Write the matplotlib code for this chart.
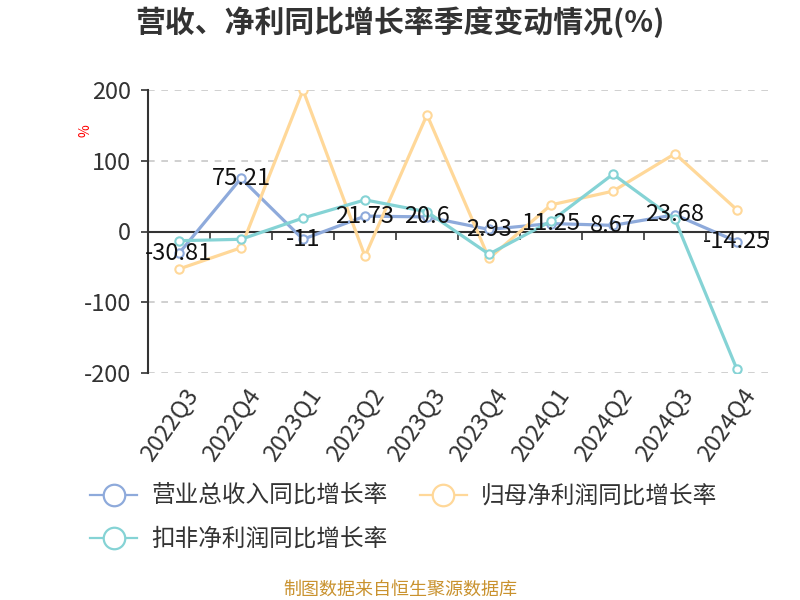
import matplotlib
matplotlib.use("Agg")
import matplotlib.pyplot as plt
from matplotlib.lines import Line2D

plt.rcParams['font.family'] = ['Noto Sans CJK SC', 'DejaVu Sans']
plt.rcParams['axes.unicode_minus'] = False

# data
quarters = ["2022Q3", "2022Q4", "2023Q1", "2023Q2", "2023Q3",
            "2023Q4", "2024Q1", "2024Q2", "2024Q3", "2024Q4"]
revenue_yoy = [-30.81, 75.21, -11, 21.73, 20.6, 2.93, 11.25, 8.67, 23.68, -14.25]
net_profit_yoy = [-53, -23, 200, -35, 165, -38, 37.6, 57, 110, 30.6]
deducted_profit_yoy = [-13, -11, 19, 44.7, 27.8, -32, 14.6, 81, 17, -195]
series_names = ["营业总收入同比增长率", "归母净利润同比增长率", "扣非净利润同比增长率"]
colors = ["#8eaadb", "#ffd899", "#85d3d5"]

fig = plt.figure(figsize=(8, 6), dpi=100)
ax = fig.add_axes([148 / 800, (600 - 373) / 600, 620 / 800, 283 / 600])

x = list(range(len(quarters)))
for vals, c in zip([revenue_yoy, net_profit_yoy, deducted_profit_yoy], colors):
    ax.plot(x, vals, color=c, lw=2.3, marker="o", markersize=6,
            markerfacecolor="white", markeredgecolor=c, markeredgewidth=1.5, zorder=3)

# value labels on revenue series
for xi, v in zip(x, revenue_yoy):
    ax.text(xi, v, f"{v:g}", ha="center", va="center", fontsize=17,
            color="#111111", zorder=5)

ax.set_xlim(-0.5, len(quarters) - 0.5)
ax.set_ylim(-200, 200)
ax.set_yticks([-200, -100, 0, 100, 200])
ax.tick_params(axis="y", labelsize=17, labelcolor="#333333", length=5, width=1.2,
               color="#333333", pad=7)
for yv in [-200, -100, 100, 200]:
    ax.axhline(yv, color="#c8c8c8", lw=1.2, ls=(0, (4, 4)), zorder=1)

# category axis at zero with ticks at band boundaries
for s in ["top", "right"]:
    ax.spines[s].set_visible(False)
ax.spines["left"].set_color("#333333")
ax.spines["left"].set_linewidth(1.5)
ax.spines["bottom"].set_position(("data", 0))
ax.spines["bottom"].set_color("#333333")
ax.spines["bottom"].set_linewidth(1.5)
ax.set_xticks([i - 0.5 for i in range(len(quarters) + 1)])
ax.set_xticklabels([])
ax.tick_params(axis="x", length=6, width=1.2, color="#333333", direction="out")

for xi, q in zip(x, quarters):
    ax.text(xi + 0.07, -0.04, q, transform=ax.get_xaxis_transform(), rotation=55,
            rotation_mode="anchor", ha="right", va="top", fontsize=17, color="#333333")

fig.text(86 / 800, 1 - 131 / 600, "%", color="red", rotation=90, fontsize=10,
         ha="center", va="center")

fig.text(0.5, 1 - 22 / 600, "营收、净利同比增长率季度变动情况(%)", ha="center", va="center",
         fontsize=21.5, fontweight="bold", color="#333333")

handles = [Line2D([0], [0], color=c, lw=1.6, marker="o", markersize=15.5,
                  markerfacecolor="white", markeredgecolor=c, markeredgewidth=1.6)
           for c in colors]
order = [0, 2, 1]
fig.legend([handles[i] for i in order], [series_names[i] for i in order],
           loc="upper left", bbox_to_anchor=(90 / 800, 1 - 485 / 600),
           ncol=2, frameon=False, fontsize=17, handlelength=2.0, handletextpad=0.6,
           columnspacing=1.35, labelspacing=0.85, borderpad=0, borderaxespad=0,
           labelcolor="#333333")

fig.text(0.5, 1 - 590 / 600, "制图数据来自恒生聚源数据库", ha="center", va="center",
         fontsize=13, color="#c9922e")

fig.savefig("out.png", dpi=100)
